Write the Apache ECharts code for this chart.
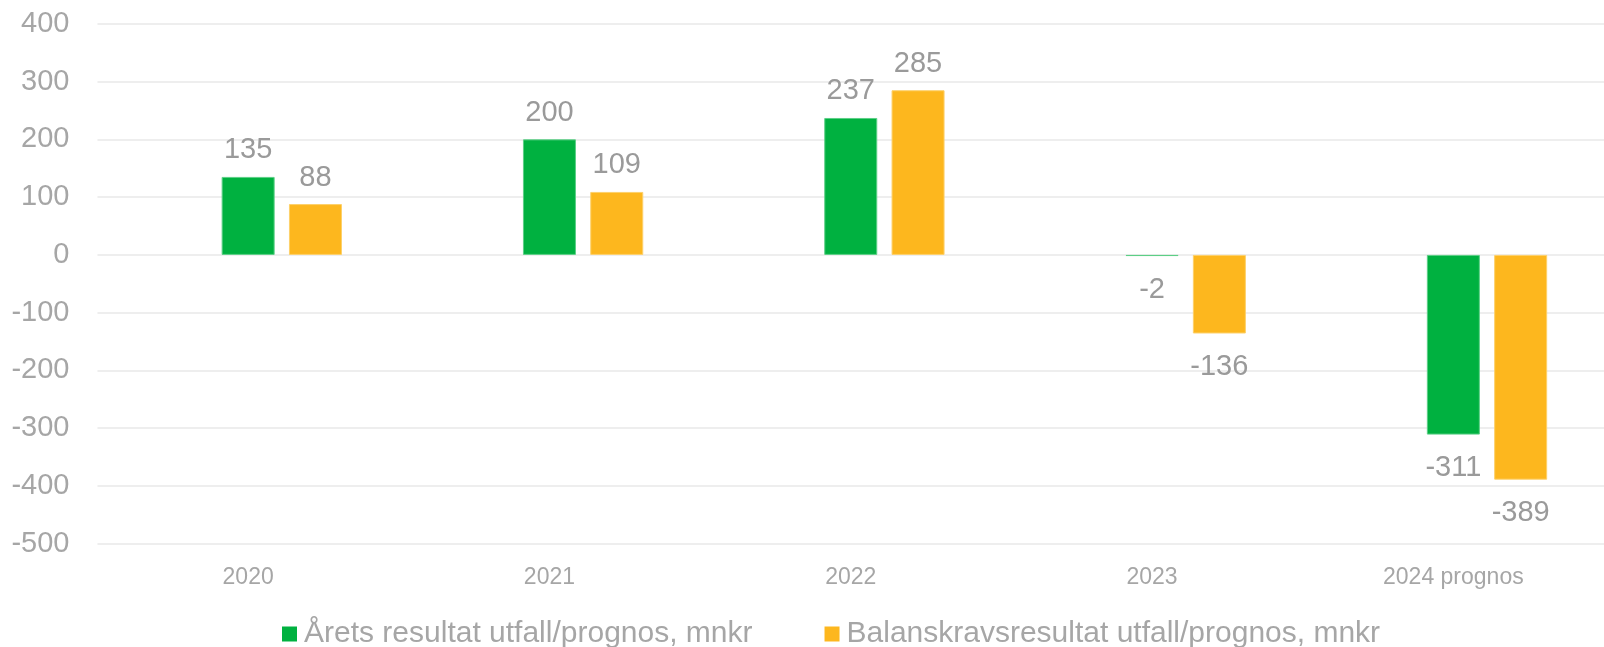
<!DOCTYPE html>
<html>
<head>
<meta charset="utf-8">
<script src="https://cdn.jsdelivr.net/npm/echarts@6/dist/echarts.min.js"></script>
<style>
html,body{margin:0;padding:0;background:#fff;}
#chart{width:1604px;height:647px;}
</style>
</head>
<body>
<div id="chart"></div>
<script>
var categories = ['2020', '2021', '2022', '2023', '2024 prognos'];
var seriesNames = ['Årets resultat utfall/prognos, mnkr', 'Balanskravsresultat utfall/prognos, mnkr'];
var aretsResultat = [135, 200, 237, -2, -311];
var balanskravsResultat = [88, 109, 285, -136, -389];
var placeholder = [null, null, null, null, null];
var yMin = -500, yMax = 400, yInterval = 100;

var FONT = '"Liberation Sans", Arial, sans-serif';
var chart = echarts.init(document.getElementById('chart'), null, {renderer: 'canvas'});

var labelStyle = {
  show: true,
  position: 'outside',
  distance: 12,
  color: '#9a9a9a',
  fontSize: 29,
  fontFamily: FONT
};

function withLabels(values) {
  return values.map(function (v) {
    return {value: v, label: {distance: v < 0 ? 19 : 12}};
  });
}

chart.setOption({
  animation: false,
  backgroundColor: '#ffffff',
  grid: {left: 97.5, right: -9.5, top: 23.8, bottom: 103.2, containLabel: false},
  legend: {
    data: seriesNames,
    left: 277,
    top: 614,
    icon: 'rect',
    itemWidth: 15,
    itemHeight: 15,
    itemGap: 72,
    itemStyle: {borderWidth: 0},
    textStyle: {color: '#a6a6a6', fontSize: 30, fontFamily: FONT, padding: [0,0,0,2]}
  },
  xAxis: {
    type: 'category',
    data: categories,
    axisLine: {show: false},
    axisTick: {show: false},
    axisLabel: {color: '#a6a6a6', fontSize: 23, fontFamily: FONT, margin: 22}
  },
  yAxis: {
    type: 'value',
    min: yMin,
    max: yMax,
    interval: yInterval,
    axisLine: {show: false},
    axisTick: {show: false},
    axisLabel: {color: '#a6a6a6', fontSize: 29, fontFamily: FONT, margin: 28},
    splitLine: {lineStyle: {color: '#e8e8e8', width: 1.5}}
  },
  series: [
    {
      name: '_placeholder',
      type: 'bar',
      data: placeholder,
      barWidth: 53,
      barGap: '27%'
    },
    {
      name: seriesNames[0],
      type: 'bar',
      data: withLabels(aretsResultat),
      barWidth: 53,
      barGap: '27%',
      itemStyle: {color: '#00b140', borderColor: '#5ccf86', borderWidth: 1},
      label: labelStyle
    },
    {
      name: seriesNames[1],
      type: 'bar',
      data: withLabels(balanskravsResultat),
      barWidth: 53,
      barGap: '27%',
      itemStyle: {color: '#fdb71e', borderColor: '#fdd06a', borderWidth: 1},
      label: labelStyle
    }
  ]
});
</script>
</body>
</html>
